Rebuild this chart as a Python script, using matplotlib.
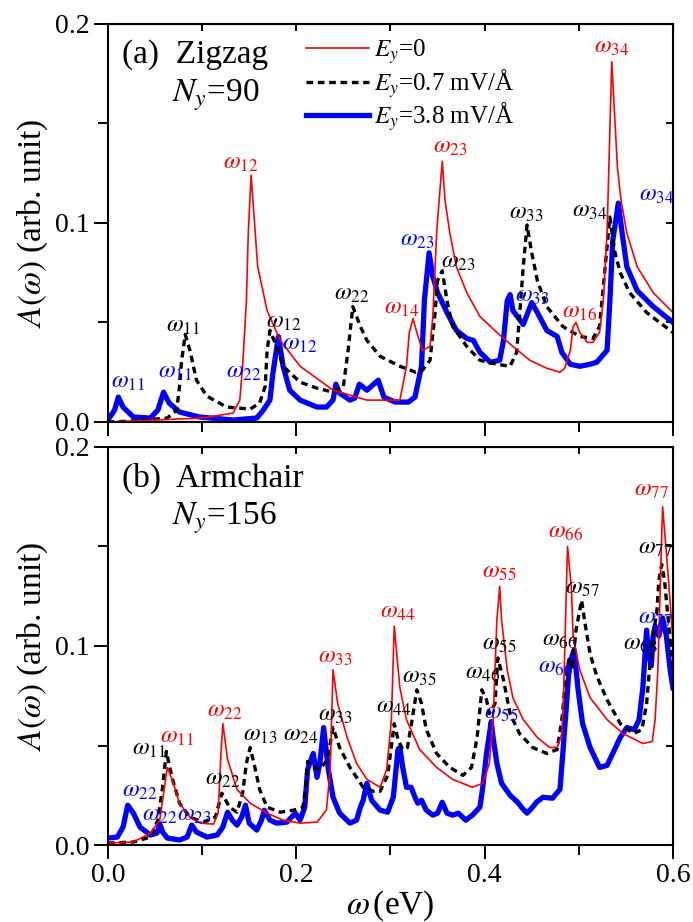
import matplotlib.pyplot as plt
from matplotlib.ticker import MultipleLocator
import numpy as np

plt.rcParams['font.family'] = 'serif'
plt.rcParams['font.serif'] = ['Liberation Serif', 'DejaVu Serif']
plt.rcParams['mathtext.fontset'] = 'stix'

# (a) zigzag, Ny = 90 : (omega [eV], A(omega))
zig_e0 = np.array([
    (0.000, 0.000), (0.050, 0.001), (0.100, 0.002), (0.133, 0.0045), (0.140, 0.011),
    (0.143, 0.028), (0.147, 0.061), (0.149, 0.095), (0.152, 0.124), (0.154, 0.111),
    (0.159, 0.078), (0.169, 0.056), (0.183, 0.041), (0.204, 0.028), (0.239, 0.016),
    (0.275, 0.011), (0.289, 0.011), (0.310, 0.011), (0.317, 0.028), (0.320, 0.045),
    (0.324, 0.052), (0.328, 0.045), (0.334, 0.036), (0.342, 0.038), (0.345, 0.053),
    (0.349, 0.095), (0.355, 0.131), (0.358, 0.111), (0.363, 0.095), (0.370, 0.078),
    (0.381, 0.065), (0.395, 0.053), (0.413, 0.045), (0.430, 0.038), (0.448, 0.031),
    (0.466, 0.027), (0.480, 0.025), (0.485, 0.027), (0.491, 0.036), (0.494, 0.048),
    (0.497, 0.050), (0.501, 0.045), (0.509, 0.040), (0.515, 0.040), (0.522, 0.045),
    (0.526, 0.061), (0.530, 0.095), (0.535, 0.181), (0.541, 0.128), (0.545, 0.111),
    (0.551, 0.095), (0.562, 0.078), (0.579, 0.065), (0.600, 0.055)])

zig_e07 = np.array([
    (0.000, 0.000), (0.027, 0.0005), (0.063, 0.002), (0.073, 0.006), (0.076, 0.018),
    (0.078, 0.030), (0.082, 0.044), (0.087, 0.036), (0.094, 0.021), (0.105, 0.013),
    (0.126, 0.0075), (0.151, 0.0065), (0.161, 0.0095), (0.167, 0.018), (0.169, 0.036),
    (0.172, 0.046), (0.179, 0.038), (0.186, 0.028), (0.204, 0.020), (0.222, 0.017),
    (0.239, 0.015), (0.250, 0.018), (0.255, 0.036), (0.260, 0.058), (0.268, 0.048),
    (0.275, 0.041), (0.289, 0.033), (0.310, 0.028), (0.327, 0.025), (0.334, 0.026),
    (0.342, 0.031), (0.347, 0.053), (0.350, 0.071), (0.355, 0.076), (0.360, 0.061),
    (0.366, 0.048), (0.381, 0.038), (0.395, 0.031), (0.413, 0.029), (0.427, 0.028),
    (0.434, 0.035), (0.437, 0.053), (0.441, 0.078), (0.445, 0.099), (0.450, 0.085),
    (0.456, 0.071), (0.466, 0.058), (0.483, 0.048), (0.501, 0.043), (0.515, 0.042),
    (0.522, 0.048), (0.528, 0.078), (0.533, 0.103), (0.538, 0.086), (0.544, 0.075),
    (0.554, 0.065), (0.572, 0.055), (0.600, 0.045)])

zig_e38 = np.array([
    (0.000, 0.001), (0.007, 0.006), (0.011, 0.0125), (0.016, 0.0075), (0.027, 0.0025),
    (0.045, 0.002), (0.053, 0.006), (0.059, 0.015), (0.065, 0.0095), (0.076, 0.005),
    (0.097, 0.0025), (0.133, 0.001), (0.158, 0.002), (0.165, 0.006), (0.172, 0.011),
    (0.175, 0.024), (0.181, 0.043), (0.186, 0.028), (0.193, 0.016), (0.204, 0.011),
    (0.222, 0.0075), (0.232, 0.0075), (0.239, 0.011), (0.242, 0.019), (0.246, 0.0145),
    (0.257, 0.011), (0.262, 0.012), (0.267, 0.019), (0.275, 0.016), (0.287, 0.021),
    (0.293, 0.0125), (0.305, 0.010), (0.319, 0.010), (0.326, 0.0125), (0.333, 0.028),
    (0.336, 0.061), (0.341, 0.085), (0.345, 0.073), (0.350, 0.065), (0.360, 0.055),
    (0.370, 0.046), (0.381, 0.042), (0.388, 0.041), (0.395, 0.035), (0.406, 0.030),
    (0.416, 0.031), (0.420, 0.041), (0.424, 0.061), (0.427, 0.064), (0.430, 0.056),
    (0.441, 0.049), (0.450, 0.060), (0.456, 0.055), (0.466, 0.046), (0.477, 0.043),
    (0.482, 0.035), (0.491, 0.029), (0.501, 0.028), (0.512, 0.029), (0.519, 0.030),
    (0.530, 0.036), (0.533, 0.061), (0.536, 0.091), (0.542, 0.110), (0.546, 0.095),
    (0.551, 0.078), (0.562, 0.066), (0.579, 0.058), (0.600, 0.050)])

# (b) armchair, Ny = 156
arm_e0 = np.array([
    (0.000, 0.001), (0.027, 0.0015), (0.045, 0.006), (0.055, 0.0125), (0.060, 0.029),
    (0.063, 0.039), (0.068, 0.033), (0.076, 0.021), (0.087, 0.014), (0.098, 0.011),
    (0.112, 0.0105), (0.117, 0.016), (0.120, 0.046), (0.122, 0.061), (0.127, 0.043),
    (0.137, 0.028), (0.151, 0.021), (0.169, 0.016), (0.186, 0.0125), (0.204, 0.011),
    (0.222, 0.0115), (0.232, 0.0175), (0.236, 0.038), (0.239, 0.088), (0.244, 0.071),
    (0.254, 0.054), (0.264, 0.041), (0.275, 0.033), (0.289, 0.029), (0.296, 0.038),
    (0.301, 0.063), (0.304, 0.110), (0.310, 0.079), (0.317, 0.063), (0.331, 0.048),
    (0.349, 0.039), (0.366, 0.033), (0.387, 0.029), (0.398, 0.031), (0.405, 0.041),
    (0.409, 0.063), (0.413, 0.113), (0.416, 0.130), (0.418, 0.113), (0.424, 0.088),
    (0.430, 0.074), (0.441, 0.063), (0.456, 0.054), (0.469, 0.049), (0.477, 0.049),
    (0.482, 0.056), (0.484, 0.079), (0.488, 0.150), (0.492, 0.130), (0.494, 0.105),
    (0.501, 0.088), (0.512, 0.074), (0.530, 0.063), (0.547, 0.056), (0.568, 0.051),
    (0.578, 0.052), (0.581, 0.063), (0.584, 0.088), (0.588, 0.155), (0.589, 0.170),
    (0.593, 0.147), (0.597, 0.122), (0.600, 0.102)])

arm_e07 = np.array([
    (0.000, 0.001), (0.027, 0.0015), (0.045, 0.004), (0.053, 0.0125), (0.058, 0.029),
    (0.062, 0.047), (0.068, 0.034), (0.076, 0.021), (0.087, 0.014), (0.101, 0.0115),
    (0.114, 0.014), (0.121, 0.026), (0.129, 0.019), (0.137, 0.0165), (0.143, 0.026),
    (0.147, 0.041), (0.151, 0.049), (0.156, 0.039), (0.161, 0.028), (0.169, 0.019),
    (0.183, 0.0165), (0.197, 0.0175), (0.207, 0.019), (0.211, 0.033), (0.212, 0.042),
    (0.217, 0.039), (0.225, 0.038), (0.233, 0.043), (0.239, 0.059), (0.246, 0.049),
    (0.257, 0.039), (0.271, 0.029), (0.282, 0.027), (0.289, 0.027), (0.297, 0.035),
    (0.304, 0.061), (0.308, 0.053), (0.313, 0.048), (0.318, 0.049), (0.323, 0.063),
    (0.328, 0.078), (0.333, 0.071), (0.338, 0.058), (0.349, 0.046), (0.363, 0.039),
    (0.377, 0.035), (0.386, 0.039), (0.392, 0.054), (0.397, 0.078), (0.402, 0.073),
    (0.405, 0.066), (0.411, 0.071), (0.414, 0.094), (0.420, 0.083), (0.427, 0.066),
    (0.437, 0.056), (0.451, 0.049), (0.466, 0.046), (0.477, 0.048), (0.482, 0.063),
    (0.487, 0.088), (0.490, 0.094), (0.493, 0.088), (0.497, 0.108), (0.503, 0.123),
    (0.506, 0.113), (0.512, 0.096), (0.519, 0.085), (0.530, 0.073), (0.544, 0.061),
    (0.558, 0.056), (0.567, 0.058), (0.572, 0.071), (0.575, 0.088), (0.579, 0.105),
    (0.583, 0.118), (0.585, 0.133), (0.588, 0.141), (0.591, 0.133), (0.595, 0.113),
    (0.600, 0.088)])

arm_e38 = np.array([
    (0.000, 0.0035), (0.010, 0.004), (0.016, 0.009), (0.021, 0.020), (0.027, 0.016),
    (0.034, 0.009), (0.045, 0.005), (0.052, 0.006), (0.055, 0.0105), (0.058, 0.0065),
    (0.063, 0.0035), (0.076, 0.0025), (0.084, 0.004), (0.089, 0.010), (0.094, 0.0065),
    (0.105, 0.004), (0.116, 0.005), (0.122, 0.009), (0.127, 0.0165), (0.132, 0.0125),
    (0.137, 0.010), (0.142, 0.014), (0.146, 0.020), (0.150, 0.011), (0.158, 0.0075),
    (0.163, 0.0125), (0.166, 0.0175), (0.172, 0.0125), (0.179, 0.011), (0.190, 0.0115),
    (0.199, 0.016), (0.204, 0.0125), (0.209, 0.019), (0.212, 0.038), (0.218, 0.046),
    (0.222, 0.034), (0.225, 0.041), (0.229, 0.059), (0.234, 0.038), (0.239, 0.024),
    (0.246, 0.016), (0.257, 0.011), (0.264, 0.0125), (0.268, 0.019), (0.271, 0.0225),
    (0.275, 0.031), (0.280, 0.0225), (0.289, 0.0175), (0.297, 0.0165), (0.303, 0.024),
    (0.308, 0.048), (0.310, 0.049), (0.313, 0.039), (0.317, 0.029), (0.322, 0.029),
    (0.326, 0.024), (0.329, 0.021), (0.333, 0.0225), (0.338, 0.0175), (0.345, 0.015),
    (0.350, 0.016), (0.355, 0.0215), (0.360, 0.016), (0.366, 0.015), (0.372, 0.016),
    (0.380, 0.0125), (0.387, 0.015), (0.395, 0.019), (0.398, 0.029), (0.402, 0.046),
    (0.407, 0.062), (0.409, 0.054), (0.413, 0.041), (0.418, 0.031), (0.427, 0.025),
    (0.435, 0.0215), (0.440, 0.0185), (0.445, 0.016), (0.450, 0.0185), (0.455, 0.0215),
    (0.462, 0.024), (0.472, 0.0235), (0.480, 0.028), (0.483, 0.046), (0.487, 0.071),
    (0.490, 0.091), (0.495, 0.098), (0.499, 0.079), (0.504, 0.061), (0.512, 0.049),
    (0.522, 0.039), (0.530, 0.040), (0.536, 0.046), (0.544, 0.054), (0.551, 0.059),
    (0.559, 0.058), (0.564, 0.063), (0.568, 0.079), (0.572, 0.108), (0.574, 0.096),
    (0.577, 0.090), (0.579, 0.105), (0.581, 0.110), (0.585, 0.105), (0.589, 0.114),
    (0.593, 0.105), (0.597, 0.088), (0.600, 0.079)])

# peak annotations: (subscript, x, y, colour)
zig_labels = [
    ('12', 0.141, 0.130, 'red'), ('23', 0.363, 0.138, 'red'), ('34', 0.535, 0.188, 'red'),
    ('14', 0.312, 0.057, 'red'), ('16', 0.501, 0.055, 'red'),
    ('11', 0.080, 0.048, 'black'), ('12', 0.187, 0.050, 'black'), ('22', 0.259, 0.064, 'black'),
    ('23', 0.372, 0.080, 'black'), ('33', 0.444, 0.105, 'black'), ('34', 0.512, 0.106, 'black'),
    ('11', 0.021, 0.020, 'blue'), ('11', 0.071, 0.025, 'blue'), ('12', 0.204, 0.039, 'blue'),
    ('22', 0.144, 0.025, 'blue'), ('23', 0.328, 0.091, 'blue'), ('33', 0.450, 0.063, 'blue'),
    ('34', 0.583, 0.114, 'blue')]

arm_labels = [
    ('11', 0.073, 0.054, 'red'), ('22', 0.124, 0.067, 'red'), ('33', 0.241, 0.094, 'red'),
    ('44', 0.308, 0.117, 'red'), ('55', 0.416, 0.137, 'red'), ('66', 0.486, 0.157, 'red'),
    ('77', 0.577, 0.178, 'red'),
    ('11', 0.043, 0.048, 'black'), ('22', 0.122, 0.033, 'black'), ('13', 0.162, 0.055, 'black'),
    ('24', 0.205, 0.055, 'black'), ('33', 0.241, 0.065, 'black'), ('44', 0.303, 0.069, 'black'),
    ('35', 0.331, 0.084, 'black'), ('46', 0.398, 0.086, 'black'), ('55', 0.416, 0.101, 'black'),
    ('57', 0.504, 0.129, 'black'), ('66', 0.480, 0.103, 'black'), ('68', 0.565, 0.101, 'black'),
    ('77', 0.581, 0.149, 'black'),
    ('22', 0.034, 0.027, 'blue'), ('22', 0.055, 0.015, 'blue'), ('23', 0.092, 0.015, 'blue'),
    ('55', 0.418, 0.066, 'blue'), ('66', 0.475, 0.089, 'blue'), ('77', 0.581, 0.114, 'blue')]

series_names = [r'$E_y$=0', r'$E_y$=0.7 mV/Å', r'$E_y$=3.8 mV/Å']
colors = {'red': '#ff0000', 'black': 'black', 'blue': '#0000ff'}


def draw_panel(ax, e0, e07, e38, labels, title, ny, show_x):
    hb, = ax.plot(e38[:, 0], e38[:, 1], color=colors['blue'], lw=3.8, solid_joinstyle='round')
    hk, = ax.plot(e07[:, 0], e07[:, 1], color='black', lw=2.4, ls=(0, (2.0, 1.4)))
    hr, = ax.plot(e0[:, 0], e0[:, 1], color=colors['red'], lw=1.2)
    for sub, x, y, c in labels:
        ax.text(x, y, r'$\omega_{%s}$' % sub, color=colors[c], fontsize=17.5,
                ha='center', va='center')
    ax.text(0.025, 0.922, title, transform=ax.transAxes, fontsize=24, va='center')
    ax.text(0.113, 0.82, r'$N_y$=%d' % ny, transform=ax.transAxes, fontsize=24, va='center')

    ax.set_xlim(0, 0.6)
    ax.set_ylim(0, 0.2)
    ax.xaxis.set_major_locator(MultipleLocator(0.2))
    ax.xaxis.set_minor_locator(MultipleLocator(0.1))
    ax.yaxis.set_major_locator(MultipleLocator(0.1))
    ax.yaxis.set_minor_locator(MultipleLocator(0.05))
    ax.yaxis.set_major_formatter(lambda v, p: '%.1f' % v)
    ax.xaxis.set_major_formatter(lambda v, p: '%.1f' % v)
    ax.tick_params(which='major', direction='out', length=10, width=1.4, labelsize=20, pad=3)
    ax.tick_params(which='minor', direction='out', length=7, width=1.4)
    ax.tick_params(axis='x', labelbottom=show_x)
    for s in ax.spines.values():
        s.set_linewidth(1.5)

    top = ax.secondary_xaxis('top')
    top.xaxis.set_major_locator(MultipleLocator(0.1))
    top.tick_params(direction='in', length=5, width=1.4, labeltop=False)
    right = ax.secondary_yaxis('right')
    right.yaxis.set_major_locator(MultipleLocator(0.05))
    right.tick_params(direction='in', length=5, width=1.4, labelright=False)

    ax.set_ylabel(r'$A(\omega)$ (arb. unit)', fontsize=24, labelpad=4)
    return hr, hk, hb


fig = plt.figure(figsize=(6.93, 9.22), dpi=100)
ax_a = fig.add_axes([0.1558, 0.5423, 0.8153, 0.4317])
ax_b = fig.add_axes([0.1558, 0.0835, 0.8153, 0.4317])

handles = draw_panel(ax_a, zig_e0, zig_e07, zig_e38, zig_labels, '(a)  Zigzag', 90, False)
draw_panel(ax_b, arm_e0, arm_e07, arm_e38, arm_labels, '(b)  Armchair', 156, True)

ax_a.legend(handles, series_names, loc='upper left', bbox_to_anchor=(0.32, 1.01),
            frameon=False, fontsize=18, handlelength=2.5, handletextpad=0.2,
            labelspacing=0.02, borderaxespad=0.3)

ax_b.set_xlabel(r'$\omega\,$(eV)', fontsize=24, labelpad=0)

fig.savefig('out.png', dpi=100)
